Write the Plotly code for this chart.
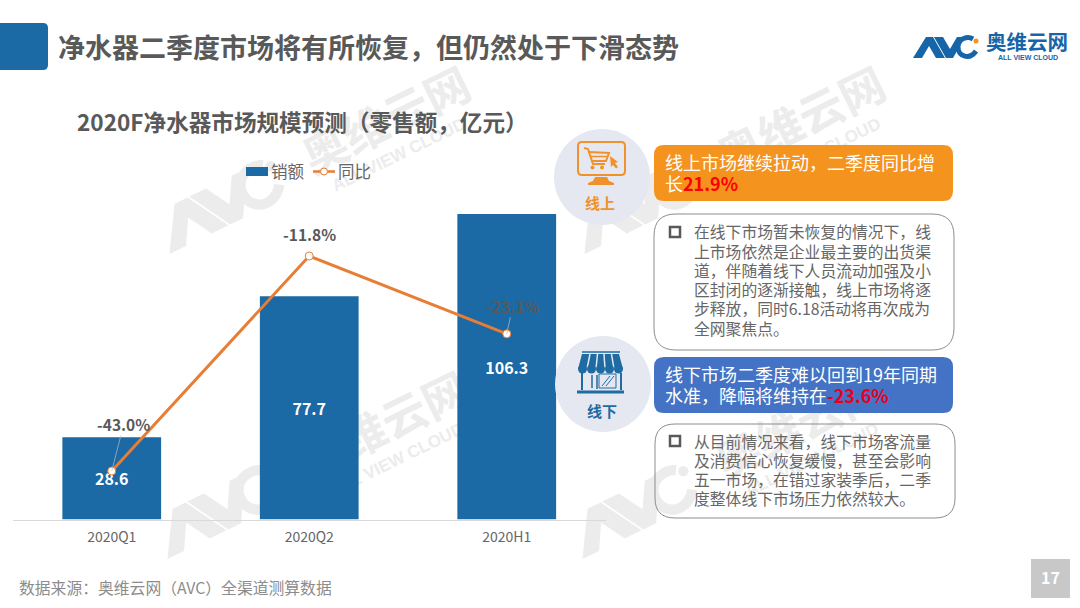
import math
import plotly.graph_objects as go

# ---------- data ----------
categories = ["2020Q1", "2020Q2", "2020H1"]
sales = [28.6, 77.7, 106.3]
yoy = [-43.0, -11.8, -23.1]
series_names = ["销额", "同比"]

main_title = "净水器二季度市场将有所恢复，但仍然处于下滑态势"
chart_title = "2020F净水器市场规模预测（零售额，亿元）"
source_note = "数据来源：奥维云网（AVC）全渠道测算数据"
page_no = "17"
online_head = ["线上市场继续拉动，二季度同比增", '长<b><span style="color:#ff0000">21.9%</span></b>']
online_body = ["在线下市场暂未恢复的情况下，线", "上市场依然是企业最主要的出货渠", "道，伴随着线下人员流动加强及小",
               "区封闭的逐渐接触，线上市场将逐", "步释放，同时6.18活动将再次成为", "全网聚焦点。"]
offline_head = ["线下市场二季度难以回到19年同期", '水准，降幅将维持在<b><span style="color:#e8001c">-23.6%</span></b>']
offline_body = ["从目前情况来看，线下市场客流量", "及消费信心恢复缓慢，甚至会影响", "五一市场，在错过家装季后，二季", "度整体线下市场压力依然较大。"]

# ---------- page geometry helpers ----------
W, H = 1080, 608
FONT = "Noto Sans CJK SC"
BLUE = "#1b69a5"
ORANGE = "#f4931e"
GRAY = "#595959"
LINE = "#e67e36"

def X(p): return p / W
def Y(p): return 1 - p / H

def path(points, close=True):
    s = "M " + " L ".join(f"{X(a):.5f},{Y(b):.5f}" for a, b in points)
    return s + (" Z" if close else "")

def rrect(x0, y0, x1, y1, r):
    c = lambda a, b: f"{X(a):.5f},{Y(b):.5f}"
    return (f"M {c(x0+r,y0)} L {c(x1-r,y0)} Q {c(x1,y0)} {c(x1,y0+r)} L {c(x1,y1-r)} Q {c(x1,y1)} {c(x1-r,y1)} "
            f"L {c(x0+r,y1)} Q {c(x0,y1)} {c(x0,y1-r)} L {c(x0,y0+r)} Q {c(x0,y0)} {c(x0+r,y0)} Z")

shapes, notes = [], []

def poly(points, fill, layer="above"):
    shapes.append(dict(type="path", path=path(points), xref="paper", yref="paper", fillcolor=fill,
                       line=dict(width=0), layer=layer))

def stroke(points, color, width, close=False):
    shapes.append(dict(type="path", path=path(points, close), xref="paper", yref="paper",
                       line=dict(color=color, width=width), fillcolor="rgba(0,0,0,0)"))

def box(x0, y0, x1, y1, r, fill="rgba(0,0,0,0)", line=None, lw=0):
    shapes.append(dict(type="path", path=rrect(x0, y0, x1, y1, r), xref="paper", yref="paper", fillcolor=fill,
                       line=dict(color=line or fill, width=lw)))

def circle(cx, cy, r, fill, layer="above"):
    shapes.append(dict(type="circle", xref="paper", yref="paper", x0=X(cx-r), x1=X(cx+r), y0=Y(cy+r), y1=Y(cy-r),
                       fillcolor=fill, line=dict(width=0), layer=layer))

def txt(x, y, s, size, color=GRAY, bold=False, anchor="left", font=FONT):
    notes.append(dict(x=X(x), y=Y(y - 1), xref="paper", yref="paper", text=f"<b>{s}</b>" if bold else s,
                      showarrow=False, xanchor=anchor, yanchor="middle", borderpad=0,
                      font=dict(family=font, size=size, color=color)))

# the AVC logo outline, in its own local pixel frame
LOGO_A = [(913, 58), (926, 37), (933, 37), (945, 58), (936, 58), (929, 46), (922, 58)]
LOGO_V = [(934, 37), (943, 37), (950, 49), (957, 37), (965, 37), (953, 58), (946, 58)]
LOGO_C = [(976, 51), (970, 60), (958, 57), (958, 47), (958, 38), (968, 36), (973, 39)]
LOGO_DOT = (976, 41)

def logo_mark(color, dot_color, tf, scale, layer):
    poly([tf(*p) for p in LOGO_A], color, layer)
    poly([tf(*p) for p in LOGO_V], color, layer)
    c = [tf(*p) for p in LOGO_C]
    f = lambda p: f"{X(p[0]):.5f},{Y(p[1]):.5f}"
    shapes.append(dict(type="path", xref="paper", yref="paper", layer=layer,
                       line=dict(color=color, width=5 * scale), fillcolor="rgba(0,0,0,0)",
                       path=f"M {f(c[0])} C {f(c[1])} {f(c[2])} {f(c[3])} C {f(c[4])} {f(c[5])} {f(c[6])}"))
    dx, dy = tf(*LOGO_DOT)
    circle(dx, dy, 2.5 * scale, dot_color, layer)

WM = "#ececec"
def watermark_text(cx, cy, s, size, family=FONT):
    shapes.append(dict(type="rect", xref="paper", yref="paper", layer="below",
                       x0=X(cx-20), x1=X(cx+20), y0=Y(cy+20), y1=Y(cy-20),
                       line=dict(width=0), fillcolor="rgba(0,0,0,0)",
                       label=dict(text=f"<b>{s}</b>", textangle=-26, textposition="middle center",
                                  font=dict(family=family, size=size, color=WM))))

def watermark_logo(cx, cy, s=2.05, deg=26):
    a = math.radians(deg)
    def tf(x, y):
        dx, dy = x - 945, y - 47.5
        return (cx + s * (dx * math.cos(a) + dy * math.sin(a)),
                cy + s * (-dx * math.sin(a) + dy * math.cos(a)))
    logo_mark(WM, WM, tf, s, "below")

# ---------- watermarks ----------
for dx, dy in [(0, 0), (415, 0), (-2, 305), (413, 305)]:
    watermark_logo(219 + dx, 206 + dy)
    watermark_text(388 + dx, 124 + dy, "奥维云网", 45)
    watermark_text(398 + dx, 153 + dy, "ALL VIEW CLOUD", 17, "Liberation Sans")

# ---------- header ----------
box(-8, 23, 48, 70, 5, fill=BLUE)
txt(57, 47, main_title, 27, GRAY, True)

LOGO = "#1565a8"
logo_mark(LOGO, ORANGE, lambda x, y: (x, y), 1, "above")
txt(1027, 41.5, "奥维云网", 20.5, LOGO, True, "center")
txt(1028, 58, "ALL VIEW CLOUD", 7, LOGO, True, "center", "Liberation Sans")

# ---------- manual legend ----------
shapes.append(dict(type="rect", xref="paper", yref="paper", x0=X(246), x1=X(268), y0=Y(176), y1=Y(167),
                   fillcolor=BLUE, line=dict(width=0)))
txt(269.5, 171.5, series_names[0], 16.5, "#666666")
stroke([(313, 171.5), (335, 171.5)], LINE, 2.5)
shapes.append(dict(type="circle", xref="paper", yref="paper", x0=X(320.5), x1=X(327.5), y0=Y(175), y1=Y(168),
                   fillcolor="#ffffff", line=dict(color=LINE, width=1)))
txt(336.5, 171.5, series_names[1], 16.5, "#666666")

# ---------- online panel ----------
circle(602, 177, 48, "#e5e8f0")
OR2 = "#f0922b"
box(578, 142, 625, 175, 4, line=OR2, lw=2)
poly([(595, 177), (607, 177), (609, 181), (614, 183), (614, 185), (588, 185), (588, 183), (593, 181)], OR2)
stroke([(584, 148), (588, 149), (593, 164), (605, 164)], OR2, 2)
stroke([(588, 152), (609, 153), (606, 161), (591, 161)], OR2, 2)
stroke([(590, 156.5), (607, 156.5)], OR2, 1.5)
circle(592.5, 167.5, 2, OR2)
circle(602, 167.5, 2, OR2)
poly([(610, 156), (618, 162), (615, 163), (618, 167), (616, 168.5), (613, 165), (611, 167)], OR2)
txt(600, 203, "线上", 15, OR2, True, "center")

box(654, 145, 953, 201, 10, fill=ORANGE)
for i, s in enumerate(online_head):
    txt(664, 163 + i * 21, s, 18, "#ffffff")

box(654, 214, 954, 350, 22, line="#8c8c8c", lw=1)
box(670, 227, 680, 237, 0, line=GRAY, lw=2.5)
for i, s in enumerate(online_body):
    txt(692.5, 233 + i * 19.2, s, 15.8, "#666666")

# ---------- offline panel ----------
circle(603, 384, 48, "#e5e8f0")
ST = "#1f6ba3"
stroke([(582, 352), (620, 352)], ST, 1.5)
poly([(582, 354), (619, 354), (623, 369), (578, 369)], ST)
for a, b in [(590, 587), (597.5, 596), (604, 605), (611.5, 614)]:
    stroke([(a, 354), (b, 369)], "#e5e8f0", 1.5)
for cx in (582.5, 591.5, 600.5, 609.5, 618.5):
    circle(cx, 369, 4.5, ST)
stroke([(582, 373), (582, 390)], ST, 2)
stroke([(621, 373), (621, 390)], ST, 2)
stroke([(577, 392), (624, 392)], ST, 3)
stroke([(592, 375), (592, 388)], ST, 1.5)
stroke([(597, 375), (597, 389)], ST, 1.5)
stroke([(599, 374), (616, 374), (616, 388), (599, 388)], ST, 1, True)
stroke([(602, 386), (610, 376)], ST, 1)
stroke([(606, 386), (614, 376)], ST, 1)
txt(602, 411, "线下", 15, ST, True, "center")

box(654, 357, 953, 413, 10, fill="#4472c4")
for i, s in enumerate(offline_head):
    txt(664, 375 + i * 21.5, s, 18, "#ffffff")

box(655, 424, 955, 518, 20, line="#8c8c8c", lw=1)
box(670, 436, 680, 446, 0, line=GRAY, lw=2.5)
for i, s in enumerate(offline_body):
    txt(692.5, 442 + i * 19.1, s, 15.8, "#666666")

# ---------- footer ----------
txt(17.5, 588, source_note, 15.8, "#8c8c8c")
shapes.append(dict(type="rect", xref="paper", yref="paper", x0=X(1031), x1=X(1070), y0=Y(598), y1=Y(559),
                   fillcolor="#c8c8c8", line=dict(width=0)))
txt(1050.5, 578, page_no, 16, "#ffffff", True, "center")

# ---------- series labels ----------
offsets = [(12, -47), None, (6, -28)]
for c, v, off in zip(categories, yoy, offsets):
    a = dict(x=c, y=v, xref="x", yref="y2", text=f"<b>{v:.1f}%</b>",
             font=dict(family=FONT, size=15.5, color=GRAY), borderpad=0)
    if off:
        a.update(showarrow=True, arrowhead=0, arrowwidth=0.7, arrowcolor="#bfbfbf", ax=off[0], ay=off[1], standoff=0)
    else:
        a.update(showarrow=False, yshift=22)
    notes.append(a)

# ---------- chart ----------
TOP, BASE = 200, 519.5
fig = go.Figure()
fig.add_trace(go.Bar(x=categories, y=sales, name=series_names[0], marker=dict(color=BLUE, line=dict(width=0)),
                     text=[f"{v:.1f}" for v in sales], textposition="inside", insidetextanchor="middle",
                     textangle=0, constraintext="none", hoverinfo="skip",
                     textfont=dict(family=FONT, size=16, color="#ffffff", weight="bold")))
fig.add_trace(go.Scatter(x=categories, y=yoy, name=series_names[1], yaxis="y2", mode="lines+markers",
                         line=dict(color=LINE, width=3), hoverinfo="skip",
                         marker=dict(symbol="circle", size=8, color="#ffffff", line=dict(color=LINE, width=1))))

fig.update_layout(
    width=W, height=H, margin=dict(l=0, r=0, t=0, b=0), autosize=False,
    paper_bgcolor="#ffffff", plot_bgcolor="rgba(0,0,0,0)", bargap=0.5, showlegend=False,
    font=dict(family=FONT, color=GRAY),
    title=dict(text=f"<b>{chart_title}</b>", x=X(77), xref="paper", xanchor="left", y=Y(123.5), yref="paper",
               yanchor="middle", pad=dict(l=0, r=0, t=0, b=0), font=dict(family=FONT, size=22.6, color=GRAY)),
    xaxis=dict(domain=[X(13), X(605.5)], range=[-0.5, 2.5], type="category", showline=True, linecolor="#d9d9d9",
               linewidth=1, showgrid=False, ticks="", ticklabelstandoff=5,
               tickfont=dict(family=FONT, size=14, color="#666666"), fixedrange=True),
    yaxis=dict(domain=[Y(BASE), Y(TOP)], range=[0, (BASE - TOP) / 2.874], visible=False, fixedrange=True),
    yaxis2=dict(domain=[Y(BASE), Y(TOP)], overlaying="y", side="right",
                range=[-43.0 - (BASE - 471) / 6.89, -11.8 + (256 - TOP) / 6.89], visible=False, fixedrange=True),
    shapes=shapes, annotations=notes,
)
fig.write_html("out.html", config={"displayModeBar": False}, post_script="document.body.style.margin='0';")
